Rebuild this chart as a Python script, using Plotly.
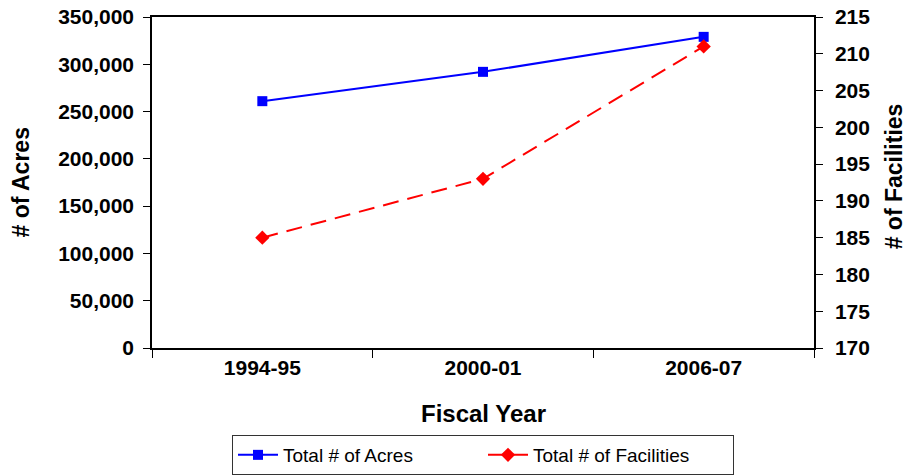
import plotly.graph_objects as go

fiscal_years = ["1994-95", "2000-01", "2006-07"]
total_acres = [261000, 292000, 329000]
total_facilities = [185, 193, 211]

FONT = "Liberation Sans, Arial, sans-serif"

fig = go.Figure()
fig.add_trace(go.Scatter(
    x=fiscal_years, y=total_acres, name="Total # of Acres",
    mode="lines+markers",
    line=dict(color="#0000FF", width=2),
    marker=dict(symbol="square", size=10, color="#0000FF"),
    yaxis="y",
))
fig.add_trace(go.Scatter(
    x=fiscal_years, y=total_facilities, name="Total # of Facilities",
    mode="lines+markers",
    line=dict(color="#FF0000", width=2, dash="16px,9px"),
    marker=dict(symbol="diamond", size=11, color="#FF0000"),
    yaxis="y2",
))

fig.update_layout(
    width=907, height=475,
    margin=dict(l=152, r=93, t=17, b=127, autoexpand=False),
    paper_bgcolor="white", plot_bgcolor="white",
    font=dict(family=FONT, color="black"),
    showlegend=True,
    legend=dict(
        orientation="h", x=0.5, xanchor="center", y=0, yanchor="bottom",
        yref="container",
        bordercolor="#333333", borderwidth=1,
        font=dict(family=FONT, size=19, color="black"),
        itemwidth=40, tracegroupgap=0, entrywidth=195,
        valign="middle",
    ),
    xaxis=dict(
        type="category", range=[-0.5, 2.5], automargin=False,
        showline=True, linecolor="black", linewidth=1.5, mirror=True,
        ticks="outside", ticklen=8, tickcolor="black", tickson="boundaries",
        tickfont=dict(family=FONT, size=21, color="black", weight="bold"),
        showgrid=False, zeroline=False,
    ),
    yaxis=dict(
        range=[0, 350000], dtick=50000, tickformat=",", automargin=False,
        showline=True, linecolor="black", linewidth=1.5,
        ticks="outside", ticklen=7, tickcolor="black",
        ticklabelstandoff=5,
        tickfont=dict(family=FONT, size=21, color="black", weight="bold"),
        showgrid=False, zeroline=False,
    ),
    yaxis2=dict(
        range=[170, 215], dtick=5, overlaying="y", side="right", automargin=False,
        showline=True, linecolor="black", linewidth=1.5,
        ticks="outside", ticklen=7, tickcolor="black",
        ticklabelstandoff=8,
        tickfont=dict(family=FONT, size=21, color="black", weight="bold"),
        showgrid=False, zeroline=False,
    ),
    annotations=[
        dict(text="# of Acres", xref="paper", yref="paper", x=-0.198, y=0.5,
             xanchor="center", yanchor="middle", textangle=-90, showarrow=False,
             font=dict(family=FONT, size=23, color="black", weight="bold")),
        dict(text="# of Facilities", xref="paper", yref="paper", x=1.12, y=0.52,
             xanchor="center", yanchor="middle", textangle=-90, showarrow=False,
             font=dict(family=FONT, size=23, color="black", weight="bold")),
        dict(text="Fiscal Year", xref="paper", yref="paper", x=0.5, y=-0.198,
             xanchor="center", yanchor="middle", showarrow=False,
             font=dict(family=FONT, size=24, color="black", weight="bold")),
    ],
)

fig.write_html("out.html", config={"displayModeBar": False},
               post_script="document.body.style.margin='0';")
